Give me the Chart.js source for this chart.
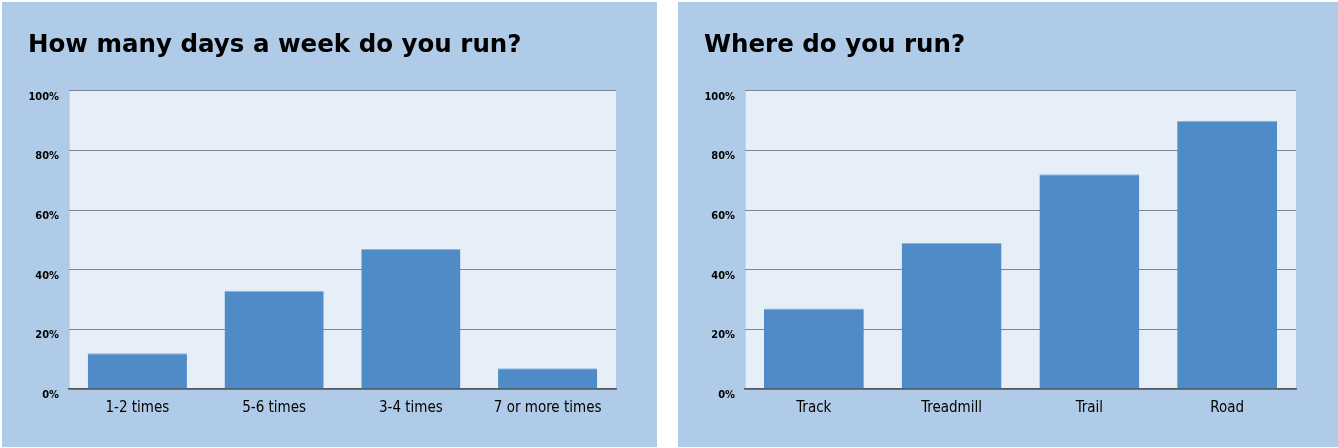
<!DOCTYPE html>
<html><head><meta charset="utf-8">
<script src="https://cdn.jsdelivr.net/npm/chart.js@4/dist/chart.umd.min.js"></script>
<style>
html,body{margin:0;padding:0;background:#fff;width:1338px;height:448px;overflow:hidden}
.panel{position:absolute;top:2px;height:445px;background:#b0cbe7}
#p1{left:2px;width:655px}
#p2{left:678px;width:660px}
canvas{display:block}
</style></head>
<body>
<div class="panel" id="p1"><canvas id="c1"></canvas></div>
<div class="panel" id="p2"><canvas id="c2"></canvas></div>
<script>
const title1 = "How many days a week do you run?";
const categories1 = ["1-2 times", "5-6 times", "3-4 times", "7 or more times"];
const values1 = [12, 33, 47, 7];

const title2 = "Where do you run?";
const categories2 = ["Track", "Treadmill", "Trail", "Road"];
const values2 = [27, 49, 72, 90];

const yTicks = [0, 20, 40, 60, 80, 100];

const narrow = "'Liberation Sans Narrow', 'DejaVu Sans Condensed', 'Roboto', sans-serif";

const plotBg = {
  id: 'plotBg',
  beforeDraw(chart) {
    const {ctx, chartArea: a} = chart;
    ctx.save();
    ctx.fillStyle = '#e6eef8';
    ctx.fillRect(a.left, a.top, a.right - a.left, a.bottom - a.top);
    ctx.strokeStyle = '#c9d4e2';
    ctx.lineWidth = 1;
    ctx.beginPath();
    ctx.moveTo(a.left + 0.5, a.top);
    ctx.lineTo(a.left + 0.5, a.bottom);
    ctx.stroke();
    ctx.restore();
  }
};

function makeChart(id, title, cats, vals, rightPad) {
  return new Chart(document.getElementById(id), {
    type: 'bar',
    data: {
      labels: cats,
      datasets: [{
        data: vals,
        backgroundColor: '#4f8cc7',
        borderColor: '#8fb3dc',
        borderWidth: {top: 1, left: 0, right: 0, bottom: 0},
        borderSkipped: 'bottom',
        barPercentage: 0.725,
        categoryPercentage: 1.0
      }]
    },
    options: {
      responsive: true,
      maintainAspectRatio: false,
      animation: false,
      devicePixelRatio: 1,
      layout: {padding: {left: 26, right: rightPad, top: 0, bottom: 0}},
      plugins: {
        legend: {display: false},
        tooltip: {enabled: false},
        title: {
          display: true,
          text: title,
          align: 'start',
          color: '#000',
          font: {family: "'DejaVu Sans', sans-serif", size: 24.5, weight: 'bold'},
          padding: {top: 28.5, bottom: 31}
        }
      },
      scales: {
        x: {
          grid: {display: false, drawTicks: false},
          border: {display: true, color: '#55595f', width: 1.5},
          ticks: {color: '#000', font: {family: narrow, size: 15}, padding: 10},
          afterFit(s) { s.height = 58; }
        },
        y: {
          min: 0, max: 100,
          afterBuildTicks(s) { s.ticks = yTicks.map(v => ({value: v})); },
          grid: {color: '#7c8696', lineWidth: 1, drawTicks: false},
          border: {display: false},
          ticks: {
            color: '#000',
            font: {family: narrow, size: 11, weight: 'bold'},
            padding: 10,
            labelOffset: 6,
            callback: v => v + '%'
          },
          afterFit(s) { s.width = 41; }
        }
      }
    },
    plugins: [plotBg]
  });
}

makeChart('c1', title1, categories1, values1, 41);
makeChart('c2', title2, categories2, values2, 42);
</script>
</body></html>
